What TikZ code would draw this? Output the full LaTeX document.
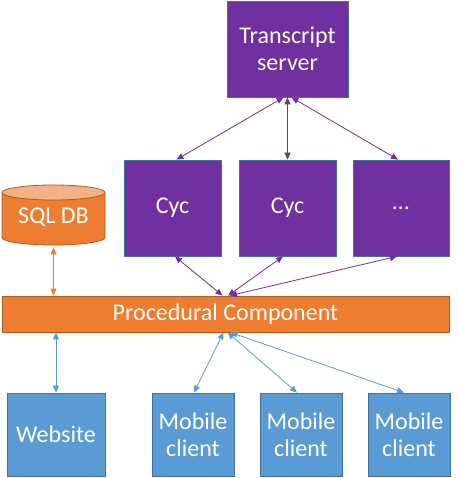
\documentclass[tikz,border=0pt]{standalone}
\usepackage{fontspec}
\setmainfont{Carlito}
\usetikzlibrary{arrows.meta}
\definecolor{cycpurple}{HTML}{7030A0}
\definecolor{procorange}{HTML}{ED7D31}
\definecolor{dborange}{HTML}{F4B183}
\definecolor{orangeline}{HTML}{AE5A21}
\definecolor{clientblue}{HTML}{5B9BD5}
\definecolor{blueline}{HTML}{41719C}
\tikzset{
  box/.style={draw=blueline, line width=0.8pt, text=white, align=center,
    font=\fontsize{24}{27}\selectfont, inner sep=0pt},
  purplebox/.style={box, fill=cycpurple},
  bluebox/.style={box, fill=clientblue},
  link/.style={line width=0.8pt, {Triangle[length=7pt,width=6pt]}-{Triangle[length=7pt,width=6pt]}},
}
\begin{document}
\begin{tikzpicture}[x=1pt,y=-1pt]
    \useasboundingbox (0,0) rectangle (457,478);

    % Transcript server and Cyc instances
    \node[purplebox, minimum width=121, minimum height=96] (ts) at (287.5,49) {Transcript\\server};
    \node[purplebox, minimum width=97, minimum height=96] (cyc1) at (172.5,208) {Cyc};
    \node[purplebox, minimum width=97, minimum height=96] (cyc2) at (287.5,208) {Cyc};
    \node[purplebox, minimum width=96, minimum height=96] (cyc3) at (401,208) {\dots};

    % Procedural component
    \node[box, draw=orangeline, fill=procorange, minimum width=447, minimum height=36] (proc) at (225.5,314) {Procedural Component};

    % SQL database
    \draw[orangeline, fill=procorange, line width=0.8pt] (2,192.5) -- (2,237.5)
        arc[start angle=180, end angle=360, x radius=51.5pt, y radius=7.5pt] -- (105,192.5);
    \draw[orangeline, fill=dborange, line width=0.8pt] (53.5,192.5) ellipse [x radius=51.5pt, y radius=7.5pt];
    \node[box, draw=none, minimum width=103, minimum height=60] (sql) at (53.5,217) {SQL DB};

    % Clients
    \node[bluebox, minimum width=98, minimum height=83] (web) at (56,434.5) {Website};
    \node[bluebox, minimum width=82, minimum height=83] (mob1) at (193,434.5) {Mobile\\client};
    \node[bluebox, minimum width=82, minimum height=83] (mob2) at (301,434.5) {Mobile\\client};
    \node[bluebox, minimum width=82, minimum height=83] (mob3) at (409,434.5) {Mobile\\client};

    % Links
    \draw[link, cycpurple] ([xshift=-4]ts.south) -- ([xshift=4]cyc1.north);
    \draw[link, cycpurple] (ts.south) -- (cyc2.north);
    \draw[link, cycpurple] ([xshift=4]ts.south) -- ([xshift=-3]cyc3.north);
    \draw[link, cycpurple] ([xshift=2.5]cyc1.south) -- ([xshift=-3]proc.north);
    \draw[link, cycpurple] ([xshift=-4.5]cyc2.south) -- ([xshift=2.5]proc.north);
    \draw[link, cycpurple] ([xshift=-4]cyc3.south) -- ([xshift=4.5]proc.north);
    \draw[link, procorange] (sql.south) -- (sql.south |- proc.north);
    \draw[link, clientblue] (proc.south -| web.north) -- (web.north);
    \draw[link, clientblue] ([xshift=-2]proc.south) -- ([xshift=1]mob1.north);
    \draw[link, clientblue] ([xshift=2]proc.south) -- ([xshift=-4]mob2.north);
    \draw[link, clientblue] ([xshift=5]proc.south) -- ([xshift=-5]mob3.north);
\end{tikzpicture}
\end{document}
